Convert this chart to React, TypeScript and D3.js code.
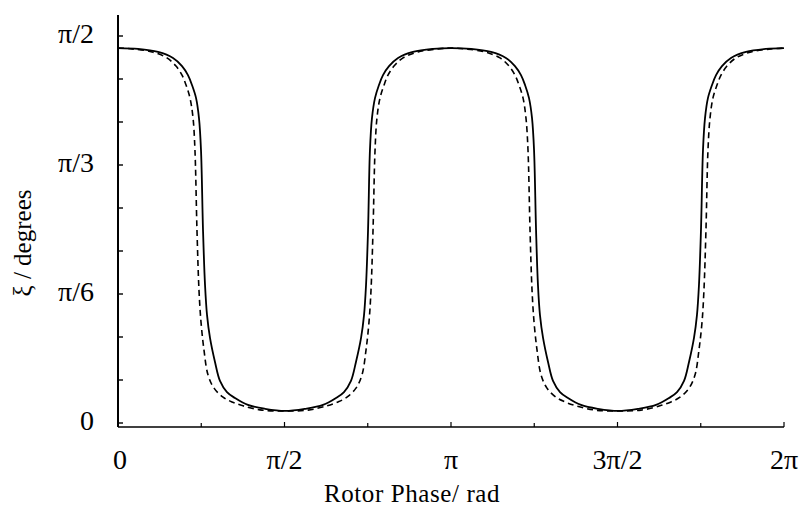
import React from 'react';
import * as d3 from 'd3';

const PI = Math.PI;

// Rotor phase (rad) and xi (degrees) — solid curve
const solidPhase = [
  0, 0.189, 0.377, 0.519, 0.604, 0.660, 0.698, 0.736, 0.764, 0.783, 0.802,
  0.821, 0.840, 0.868, 0.915, 0.962, 1.028, 1.104, 1.226, 1.387, 1.576,
  1.764, 1.934, 2.057, 2.132, 2.198, 2.245, 2.293, 2.321, 2.340, 2.359,
  2.377, 2.396, 2.425, 2.462, 2.500, 2.557, 2.642, 2.783, 2.972, 3.142,
  3.330, 3.519, 3.660, 3.745, 3.802, 3.840, 3.877, 3.906, 3.925, 3.944,
  3.962, 3.981, 4.010, 4.057, 4.104, 4.170, 4.245, 4.368, 4.528, 4.717,
  4.906, 5.076, 5.198, 5.274, 5.340, 5.387, 5.434, 5.462, 5.481, 5.500,
  5.519, 5.538, 5.566, 5.604, 5.642, 5.698, 5.783, 5.925, 6.113, 6.283,
];
const solidXi = [
  87.2, 87.0, 86.3, 84.9, 83.0, 80.9, 78.6, 75.6, 70.9, 63.5, 44.9,
  32.1, 25.1, 19.8, 14.2, 9.8, 7.2, 5.8, 4.2, 3.3, 2.8,
  3.3, 4.2, 5.8, 7.2, 9.8, 14.2, 19.8, 25.1, 32.1, 44.9,
  63.5, 70.9, 75.6, 78.6, 80.9, 83.0, 84.9, 86.3, 87.0, 87.2,
  87.0, 86.3, 84.9, 83.0, 80.9, 78.6, 75.6, 70.9, 63.5, 44.9,
  32.1, 25.1, 19.8, 14.2, 9.8, 7.2, 5.8, 4.2, 3.3, 2.8,
  3.3, 4.2, 5.8, 7.2, 9.8, 14.2, 19.8, 25.1, 32.1, 44.9,
  63.5, 70.9, 75.6, 78.6, 80.9, 83.0, 84.9, 86.3, 87.0, 87.2,
];

// dashed curve
const dashedPhase = [
  0, 0.132, 0.321, 0.462, 0.547, 0.604, 0.642, 0.679, 0.708, 0.726, 0.745,
  0.764, 0.783, 0.811, 0.849, 0.906, 0.991, 1.076, 1.179, 1.359, 1.576,
  1.793, 1.972, 2.076, 2.160, 2.245, 2.302, 2.340, 2.368, 2.387, 2.406,
  2.425, 2.443, 2.472, 2.510, 2.547, 2.604, 2.689, 2.830, 3.019, 3.142,
  3.274, 3.462, 3.604, 3.689, 3.745, 3.783, 3.821, 3.849, 3.868, 3.887,
  3.906, 3.925, 3.953, 3.991, 4.047, 4.132, 4.217, 4.321, 4.500, 4.717,
  4.934, 5.113, 5.217, 5.302, 5.387, 5.444, 5.481, 5.510, 5.528, 5.547,
  5.566, 5.585, 5.613, 5.651, 5.689, 5.745, 5.830, 5.972, 6.161, 6.283,
];
const dashedXi = [
  87.2, 87.0, 86.3, 84.9, 83.0, 80.9, 78.6, 75.6, 70.9, 63.5, 44.9,
  30.9, 23.5, 17.0, 11.2, 8.1, 6.0, 4.9, 4.0, 3.0, 2.8,
  3.0, 4.0, 4.9, 6.0, 8.1, 11.2, 17.0, 23.5, 30.9, 44.9,
  63.5, 70.9, 75.6, 78.6, 80.9, 83.0, 84.9, 86.3, 87.0, 87.2,
  87.0, 86.3, 84.9, 83.0, 80.9, 78.6, 75.6, 70.9, 63.5, 44.9,
  30.9, 23.5, 17.0, 11.2, 8.1, 6.0, 4.9, 4.0, 3.0, 2.8,
  3.0, 4.0, 4.9, 6.0, 8.1, 11.2, 17.0, 23.5, 30.9, 44.9,
  63.5, 70.9, 75.6, 78.6, 80.9, 83.0, 84.9, 86.3, 87.0, 87.2,
];

const yTickValues = [0, 30, 60, 90];
const yTickLabels = ['0', 'π/6', 'π/3', 'π/2'];
const yMinorTicks = [0, 10, 20, 30, 40, 50, 60, 70, 80, 90];
const xTickValues = [0, PI / 2, PI, (3 * PI) / 2, 2 * PI];
const xTickLabels = ['0', 'π/2', 'π', '3π/2', '2π'];
const xMinorTicks = [0, PI / 4, PI / 2, (3 * PI) / 4, PI, (5 * PI) / 4, (3 * PI) / 2, (7 * PI) / 4, 2 * PI];

const W = 801;
const H = 510;
const FONT = '"Liberation Serif", "DejaVu Serif", serif';

export default function App() {
  const x = d3.scaleLinear().domain([0, 2 * PI]).range([118, 784]);
  const y = d3.scaleLinear().domain([0, 90]).range([423, 36]);
  const axisLeft = 118;
  const axisBottom = 427;
  const axisTop = 15;

  const mk = d3
    .line<[number, number]>()
    .x((d) => x(d[0]))
    .y((d) => y(d[1]))
    .curve(d3.curveCatmullRom.alpha(0.5));
  const solidPath = mk(solidPhase.map((p, i) => [p, solidXi[i]] as [number, number]));
  const dashedPath = mk(dashedPhase.map((p, i) => [p, dashedXi[i]] as [number, number]));

  return (
    <svg
      width={W}
      height={H}
      style={{ position: 'absolute', left: 0, top: 0, background: '#fff' }}
      fontFamily={FONT}
    >
      <rect x={0} y={0} width={W} height={H} fill="#fff" />
      {/* axes */}
      <line x1={axisLeft} y1={axisTop} x2={axisLeft} y2={axisBottom} stroke="#000" strokeWidth={2} />
      <line x1={axisLeft} y1={axisBottom} x2={x(2 * PI)} y2={axisBottom} stroke="#000" strokeWidth={1.4} />
      {yMinorTicks.map((v) => (
        <line key={'ym' + v} x1={axisLeft} x2={axisLeft + 5} y1={y(v)} y2={y(v)} stroke="#000" strokeWidth={1.4} />
      ))}
      {xMinorTicks.map((v, i) => (
        <line
          key={'xm' + i}
          x1={x(v)}
          x2={x(v)}
          y1={axisBottom}
          y2={axisBottom - (i % 2 === 0 ? 5 : 4)}
          stroke="#000"
          strokeWidth={1.2}
        />
      ))}
      {yTickValues.map((v, i) => (
        <text
          key={'yl' + v}
          x={94}
          y={y(v)}
          dy="0.25em"
          textAnchor="end"
          fontSize={28}
          fill="#000"
        >
          {yTickLabels[i]}
        </text>
      ))}
      {xTickValues.map((v, i) => (
        <text key={'xl' + i} x={x(v) + (i === 0 ? 2 : 0)} y={469} textAnchor="middle" fontSize={28} fill="#000">
          {xTickLabels[i]}
        </text>
      ))}
      <text x={412} y={502} textAnchor="middle" fontSize={25} letterSpacing={0.6} fill="#000">
        Rotor Phase/ rad
      </text>
      <text
        transform={`translate(31, 243) rotate(-90)`}
        textAnchor="middle"
        fontSize={25}
        fill="#000"
      >
        ξ / degrees
      </text>
      {/* curves */}
      <path d={dashedPath || ''} fill="none" stroke="#000" strokeWidth={1.6} strokeDasharray="6,4" />
      <path d={solidPath || ''} fill="none" stroke="#000" strokeWidth={1.8} />
    </svg>
  );
}
